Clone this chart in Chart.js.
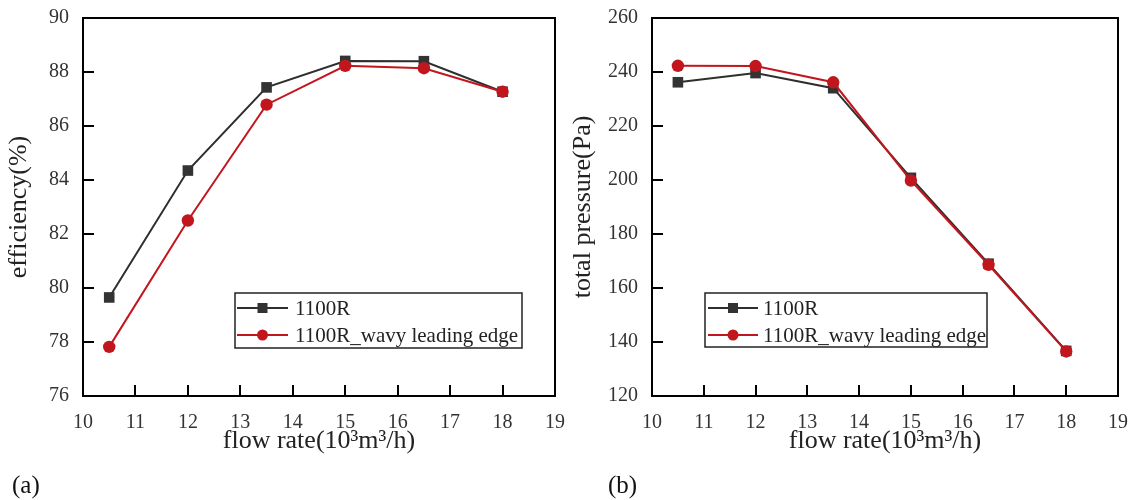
<!DOCTYPE html>
<html><head><meta charset="utf-8">
<script src="https://cdn.jsdelivr.net/npm/chart.js@4.4.1/dist/chart.umd.min.js"></script>
<style>
body{margin:0;background:#fff;width:1136px;height:500px;overflow:hidden;position:relative;font-family:"Liberation Serif",serif;}
canvas{position:absolute;top:0;}
#c1{left:0}#c2{left:568px}
.lab{position:absolute;font-size:25px;line-height:1;color:#111;}
</style></head><body>
<canvas id="c1" width="568" height="500"></canvas>
<canvas id="c2" width="568" height="500"></canvas>
<div class="lab" style="left:12px;top:472px">(a)</div>
<div class="lab" style="left:608px;top:472px">(b)</div>
<script>
// ---- data ----
const flowRate = [10.5, 12, 13.5, 15, 16.5, 18];
const seriesNames = ['1100R', '1100R_wavy leading edge'];
const effBase = [79.65, 84.35, 87.43, 88.41, 88.40, 87.27];
const effWavy = [77.82, 82.50, 86.79, 88.23, 88.14, 87.27];
const presBase = [236.2, 239.6, 234.0, 200.8, 169.0, 136.7];
const presWavy = [242.3, 242.2, 236.2, 199.8, 168.6, 136.5];
const xTicks = [10, 11, 12, 13, 14, 15, 16, 17, 18, 19];
const effTicks = [76, 78, 80, 82, 84, 86, 88, 90];
const presTicks = [120, 140, 160, 180, 200, 220, 240, 260];
const xTitle = 'flow rate(10\u00B3m\u00B3/h)';
const effTitle = 'efficiency(%)';
const presTitle = 'total pressure(Pa)';

// ---- styles ----
const BLACK = '#2e2e2e';
const RED = '#c2161e';
const FONT = '"Liberation Serif", "Times New Roman", serif';

const framePlugin = {
  id: 'frame',
  afterDatasetsDraw(chart) {
    const {ctx, chartArea: a, scales} = chart;
    ctx.save();
    ctx.strokeStyle = '#000';
    ctx.lineWidth = 2;
    ctx.beginPath();
    const L = 11;
    scales.x.ticks.forEach(t => {
      const px = Math.round(scales.x.getPixelForValue(t.value));
      ctx.moveTo(px, a.bottom); ctx.lineTo(px, a.bottom - L);
    });
    scales.y.ticks.forEach(t => {
      const py = Math.round(scales.y.getPixelForValue(t.value));
      ctx.moveTo(a.left, py); ctx.lineTo(a.left + L, py);
    });
    ctx.stroke();
    ctx.strokeRect(a.left, a.top, a.right - a.left, a.bottom - a.top);
    ctx.restore();
  }
};

const legendPlugin = {
  id: 'boxLegend',
  afterDraw(chart, args, o) {
    const {ctx} = chart;
    ctx.save();
    ctx.fillStyle = '#fff';
    ctx.fillRect(o.box[0], o.box[1], o.box[2], o.box[3]);
    ctx.strokeStyle = '#222';
    ctx.lineWidth = 1.5;
    ctx.strokeRect(o.box[0], o.box[1], o.box[2], o.box[3]);
    chart.data.datasets.forEach((ds, i) => {
      const y = o.rowY[i];
      ctx.strokeStyle = ds.borderColor;
      ctx.lineWidth = 2;
      ctx.beginPath();
      ctx.moveTo(o.lineX[0], y); ctx.lineTo(o.lineX[1], y);
      ctx.stroke();
      ctx.fillStyle = ds.pointBackgroundColor;
      const mx = (o.lineX[0] + o.lineX[1]) / 2;
      if (ds.pointStyle === 'rect') {
        ctx.fillRect(mx - 5, y - 5, 10, 10);
      } else {
        ctx.beginPath(); ctx.arc(mx, y, 5.5, 0, Math.PI * 2); ctx.fill();
      }
      ctx.fillStyle = '#222';
      ctx.font = o.fontSize + 'px ' + FONT;
      ctx.textBaseline = 'middle';
      ctx.textAlign = 'left';
      ctx.fillText(ds.label, o.textX, y + 1);
    });
    ctx.restore();
  }
};

function makeChart(id, base, wavy, yTicks, yTitle, cfg) {
  return new Chart(document.getElementById(id), {
    type: 'line',
    data: {
      datasets: [
        {label: seriesNames[0], data: flowRate.map((x, i) => ({x, y: base[i]})),
         borderColor: BLACK, backgroundColor: BLACK, pointBackgroundColor: '#333', pointBorderColor: '#333',
         pointStyle: 'rect', pointRadius: 7.5, pointBorderWidth: 0, borderWidth: 2, order: 1, tension: 0},
        {label: seriesNames[1], data: flowRate.map((x, i) => ({x, y: wavy[i]})),
         borderColor: RED, backgroundColor: RED, pointBackgroundColor: RED, pointBorderColor: RED,
         pointStyle: 'circle', pointRadius: 6.2, pointBorderWidth: 0, borderWidth: 2, order: 0, tension: 0}
      ]
    },
    options: {
      responsive: false, animation: false, devicePixelRatio: 1,
      layout: {padding: {left: 0, right: cfg.padRight, top: 18, bottom: 43}},
      plugins: {legend: {display: false}, tooltip: {enabled: false}, boxLegend: cfg.legend},
      scales: {
        x: {
          type: 'linear', min: xTicks[0], max: xTicks[xTicks.length - 1],
          afterBuildTicks: s => { s.ticks = xTicks.map(v => ({value: v})); },
          afterFit: s => { s.height = 61; s.paddingLeft = 0; s.paddingRight = 0; },
          grid: {display: false, drawTicks: false}, border: {display: false},
          ticks: {padding: 15, color: '#333', font: {family: FONT, size: 20}, maxRotation: 0, autoSkip: false},
          title: {display: true, text: xTitle, color: '#222', font: {family: FONT, size: 26}, padding: {top: 0, bottom: 0}}
        },
        y: {
          type: 'linear', min: yTicks[0], max: yTicks[yTicks.length - 1],
          afterBuildTicks: s => { s.ticks = yTicks.map(v => ({value: v})); },
          afterFit: s => { s.width = cfg.yWidth; s.paddingTop = 0; s.paddingBottom = 0; },
          grid: {display: false, drawTicks: false}, border: {display: false},
          ticks: {padding: 14, color: '#333', font: {family: FONT, size: 20}, autoSkip: false},
          title: {display: true, text: yTitle, color: '#222', font: {family: FONT, size: 26}, padding: {top: cfg.yTitlePad, bottom: 0}}
        }
      }
    },
    plugins: [framePlugin, legendPlugin]
  });
}

makeChart('c1', effBase, effWavy, effTicks, effTitle, {
  padRight: 13, yWidth: 83, yTitlePad: 4,
  legend: {box: [235, 293, 287, 55], lineX: [237, 288], textX: 295, rowY: [308, 335], fontSize: 21}
});
makeChart('c2', presBase, presWavy, presTicks, presTitle, {
  padRight: 18, yWidth: 84, yTitlePad: 0,
  legend: {box: [137, 293, 282, 54], lineX: [140, 190], textX: 195, rowY: [308, 335], fontSize: 21}
});
</script>
</body></html>
